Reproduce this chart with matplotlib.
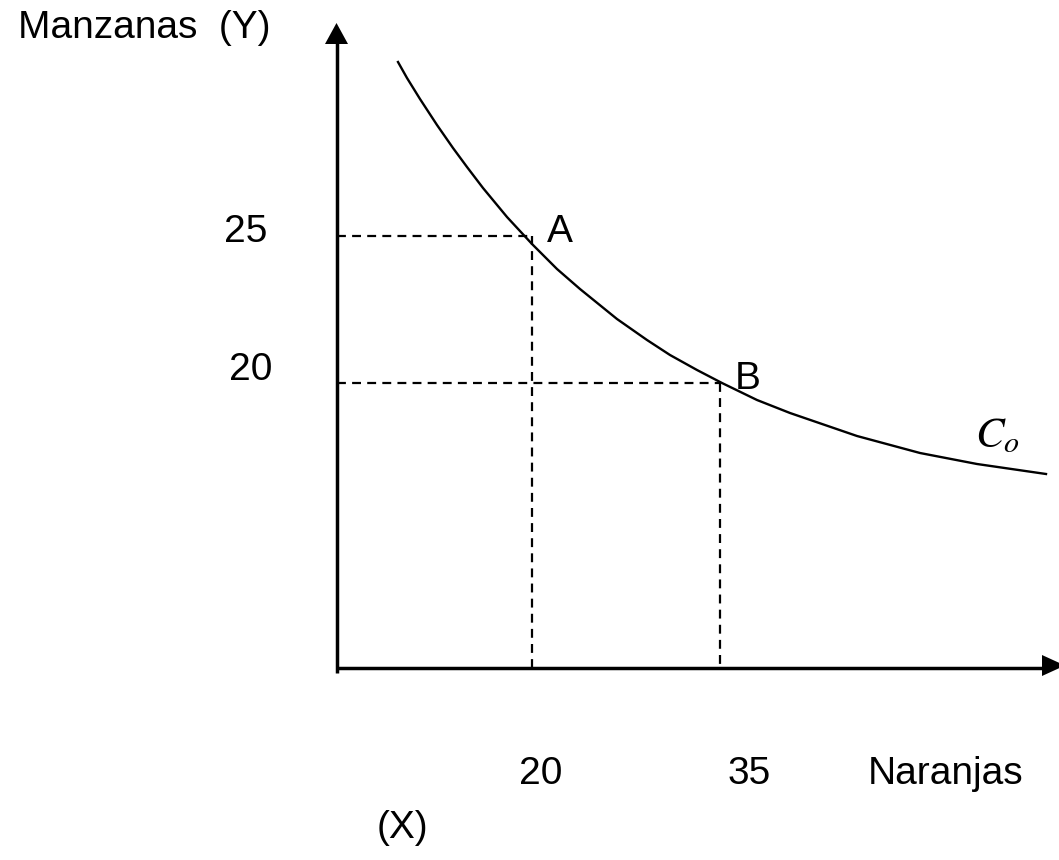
import numpy as np
import matplotlib.pyplot as plt

plt.rcParams['font.family'] = ['Liberation Sans', 'DejaVu Sans']
plt.rcParams['mathtext.fontset'] = 'stix'

# indifference curve C_o (schematic units, origin at the axes corner)
curve_x = [0.61, 0.70, 0.83, 1.00, 1.16, 1.30, 1.46, 1.70, 1.95, 2.20, 2.43,
           2.80, 3.10, 3.33, 3.60, 3.85, 4.20, 4.53, 5.20, 5.83, 6.40, 7.09]
curve_y = [6.06, 5.90, 5.69, 5.43, 5.20, 5.01, 4.80, 4.51, 4.24, 3.99, 3.79,
           3.49, 3.28, 3.13, 2.98, 2.85, 2.68, 2.55, 2.32, 2.15, 2.04, 1.94]

# marked points
pt_names = ['A', 'B']
pt_x = [1.95, 3.83]
pt_y = [4.32, 2.85]
xtick_labels = ['20', '35']
ytick_labels = ['25', '20']

fig = plt.figure(figsize=(10.59, 8.6), dpi=100)
ax = fig.add_axes([0, 0, 1, 1])
ax.set_xlim(-3.37, 7.22)
ax.set_ylim(-1.92, 6.68)
ax.axis('off')

# axes with arrow heads
ax.plot([0, 0], [-0.05, 6.30], color='black', lw=2.5, solid_capstyle='butt')
ax.plot([0, 7.10], [0, 0], color='black', lw=2.5, solid_capstyle='butt')
ax.fill([-0.12, 0.11, -0.005], [6.24, 6.24, 6.45], color='black', lw=0)
ax.fill([7.05, 7.05, 7.28], [0.13, -0.08, 0.025], color='black', lw=0)

# curve
ax.plot(curve_x, curve_y, color='black', lw=1.7, solid_joinstyle='round')

# dashed guides and labels
fs = 28
for name, x, y in zip(pt_names, pt_x, pt_y):
    ax.plot([0, x], [y, y], color='black', lw=1.6, ls=(0, (4, 2.8)))
    ax.plot([x, x], [y, 0], color='black', lw=1.6, ls=(0, (4, 2.8)))
    ax.text(x + 0.15, y - 0.06, name, fontsize=fs, ha='left', va='baseline')

ax.text(-1.13, 4.26, ytick_labels[0], fontsize=fs, ha='left', va='baseline')
ax.text(-1.08, 2.88, ytick_labels[1], fontsize=fs, ha='left', va='baseline')
ax.text(1.82, -1.16, xtick_labels[0], fontsize=fs, ha='left', va='baseline')
ax.text(3.91, -1.16, xtick_labels[1], fontsize=fs, ha='left', va='baseline')
ax.text(5.31, -1.16, 'Naranjas', fontsize=fs, ha='left', va='baseline')
ax.text(0.40, -1.70, '(X)', fontsize=fs, ha='left', va='baseline')
ax.text(-3.19, 6.30, 'Manzanas  (Y)', fontsize=fs, ha='left', va='baseline')
ax.text(6.38, 2.21, r'$C_o$', fontsize=31, ha='left', va='baseline')

fig.savefig('out.png', dpi=100)
